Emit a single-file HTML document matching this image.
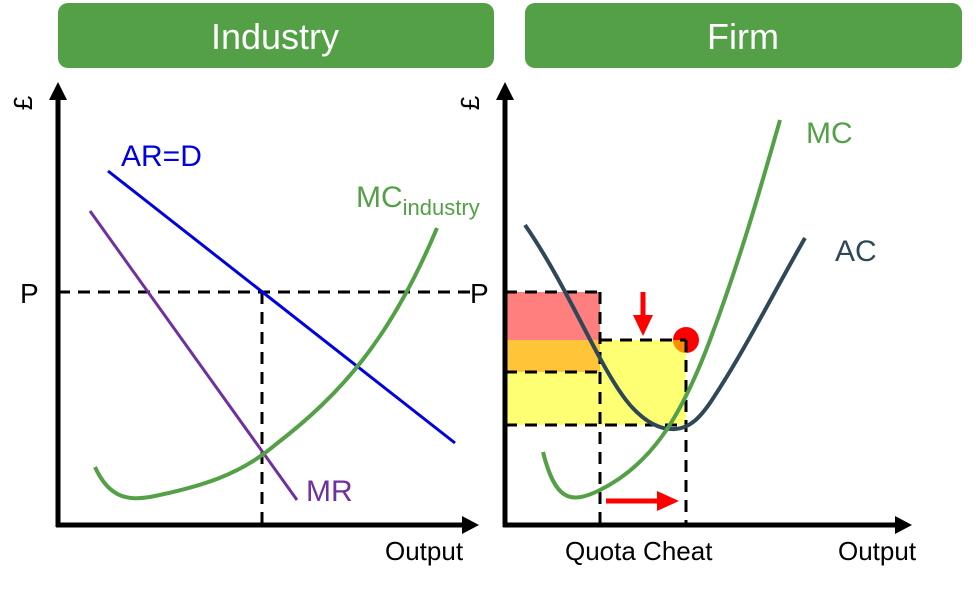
<!DOCTYPE html>
<html><head><style>
body{margin:0;background:#fff;}
svg text{font-family:"Liberation Sans",sans-serif;}
</style></head><body>
<svg width="976" height="586" viewBox="0 0 976 586" xmlns="http://www.w3.org/2000/svg">
<rect x="58" y="3" width="436" height="65" rx="10" fill="#53a046"/>
<rect x="525" y="3" width="437" height="65" rx="10" fill="#53a046"/>
<text x="275" y="49" font-size="36" fill="#fff" text-anchor="middle">Industry</text>
<text x="743" y="49" font-size="36" fill="#fff" text-anchor="middle">Firm</text>

<!-- firm rects -->
<circle cx="686" cy="340" r="13" fill="#ff0000"/>
<rect x="505" y="292" width="95" height="80" fill="#ff0000" fill-opacity="0.5"/>
<rect x="505" y="340" width="181" height="85" fill="#ffff00" fill-opacity="0.55"/>

<g stroke="#000" stroke-width="3" stroke-dasharray="12,8" fill="none">
<line x1="58" y1="292" x2="470" y2="292"/>
<line x1="262" y1="292" x2="262" y2="525"/>
<line x1="505" y1="292" x2="600" y2="292"/>
<line x1="600" y1="292" x2="600" y2="525"/>
<line x1="505" y1="372" x2="600" y2="372"/>
<line x1="600" y1="340" x2="686" y2="340"/>
<line x1="505" y1="425" x2="686" y2="425"/>
<line x1="686" y1="340" x2="686" y2="525"/>
</g>

<line x1="108" y1="171" x2="455" y2="443" stroke="#0000e0" stroke-width="3"/>
<line x1="90" y1="211" x2="297" y2="500" stroke="#7030a0" stroke-width="3"/>
<path d="M95,467 C110,500 130,500 150,497 C200,487 240,475 275,445 C340,395 390,340 437,228" stroke="#53a046" stroke-width="4" fill="none"/>

<path d="M525,225 C570,290 600,370 630,405 C645,422 660,430 675,429 C690,428 700,418 712,400 C745,350 775,290 805,238" stroke="#2f4858" stroke-width="4" fill="none"/>
<path d="M543,452 C555,500 570,505 600,490 C650,465 680,420 710,340 C740,260 760,190 780,120" stroke="#53a046" stroke-width="4" fill="none"/>

<g stroke="#000" stroke-width="5">
<line x1="58" y1="96" x2="58" y2="527"/>
<line x1="56" y1="525" x2="466" y2="525"/>
<line x1="505" y1="96" x2="505" y2="527"/>
<line x1="503" y1="525" x2="900" y2="525"/>
</g>
<polygon points="58,82 49,100 67,100" fill="#000"/>
<polygon points="505,82 496,100 514,100" fill="#000"/>
<polygon points="479,525 462,516 462,534" fill="#000"/>
<polygon points="912,525 895,516 895,534" fill="#000"/>

<line x1="643" y1="292" x2="643" y2="318" stroke="#f00" stroke-width="5"/>
<polygon points="633,315 653,315 643,336" fill="#f00"/>
<line x1="606" y1="501" x2="660" y2="501" stroke="#f00" stroke-width="5"/>
<polygon points="657,491 657,511 679,501" fill="#f00"/>

<text transform="translate(32,103) rotate(-90)" font-size="26" text-anchor="middle">£</text>
<text transform="translate(479,103) rotate(-90)" font-size="26" text-anchor="middle">£</text>
<text x="20" y="303" font-size="28">P</text>
<text x="470" y="303" font-size="28">P</text>
<text x="121" y="166" font-size="30" fill="#0000e0">AR=D</text>
<text x="306" y="501" font-size="30" fill="#7030a0">MR</text>
<text x="356" y="207" font-size="30" fill="#53a046">MC<tspan font-size="22" dy="8">industry</tspan></text>
<text x="806" y="143" font-size="30" fill="#53a046">MC</text>
<text x="835" y="261" font-size="30" fill="#2f4858">AC</text>
<text x="385" y="560" font-size="26">Output</text>
<text x="565" y="560" font-size="26">Quota Cheat</text>
<text x="838" y="560" font-size="26">Output</text>
</svg>
</body></html>
